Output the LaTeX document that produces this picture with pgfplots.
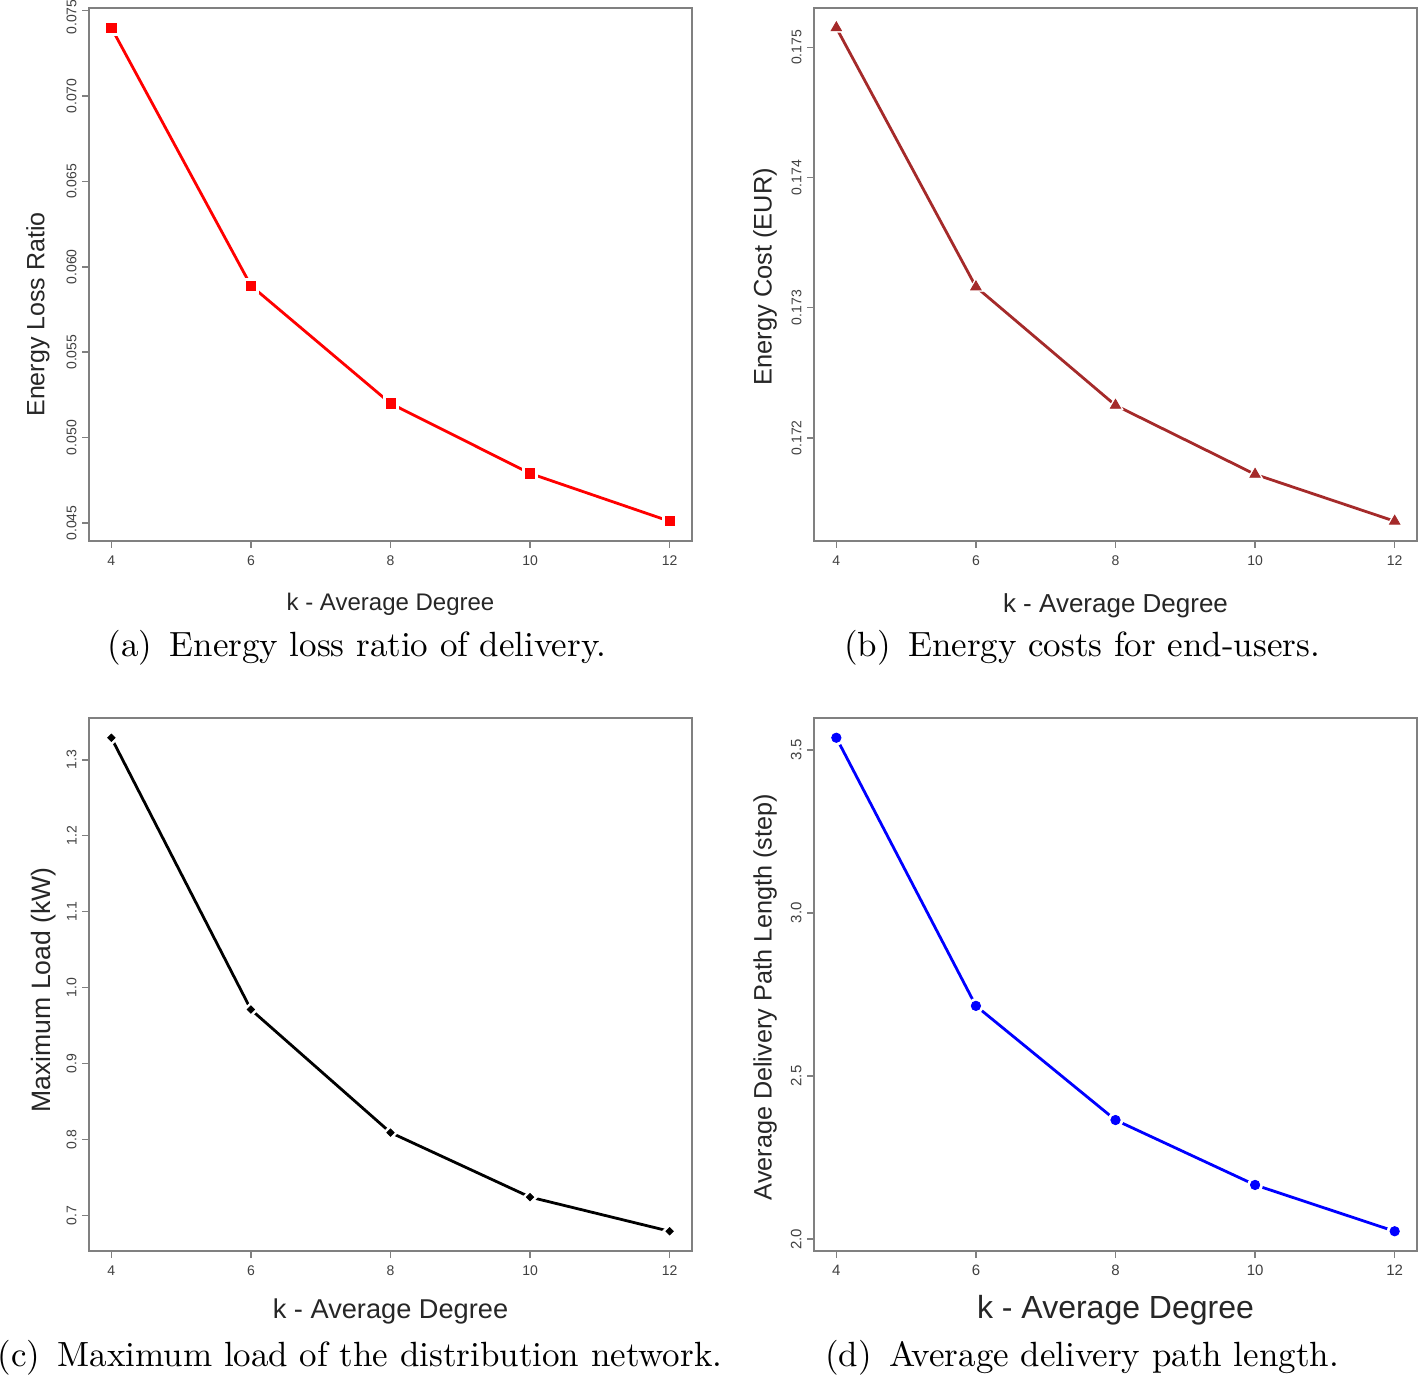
\documentclass[border=0pt]{standalone}
\usepackage{fontspec}
\newfontfamily\arialfont{Liberation Sans}
\usepackage{pgfplots}
\pgfplotsset{compat=1.18}
\usepackage{pgfplotstable}
\definecolor{rbrown}{HTML}{A52A2A}

\pgfplotstableread{
k v
4 0.0740
6 0.0589
8 0.0520
10 0.0479
12 0.0451
}\tableA
\pgfplotstableread{
k v
4 0.17515
6 0.17316
8 0.17225
10 0.17172
12 0.17136
}\tableB
\pgfplotstableread{
k v
4 1.329
6 0.971
8 0.809
10 0.724
12 0.679
}\tableC
\pgfplotstableread{
k v
4 3.537
6 2.715
8 2.365
10 2.166
12 2.024
}\tableD

\pgfplotsset{
 rstyle/.style={
  scale only axis, width=301.5pt, height=266.5pt,
  xmin=3.68, xmax=12.32,
  xtick={4,6,8,10,12}, xticklabels={4,6,8,10,12},
  scaled y ticks=false, scaled x ticks=false,
  tick align=outside, xtick pos=bottom, ytick pos=left,
  major tick length=3.5pt,
  axis line style={gray, line width=0.8pt},
  major tick style={gray, line width=0.8pt},
  tick label style={font=\arialfont\fontsize{7}{8}\selectfont, text=black!75},
  yticklabel style={rotate=90, anchor=south, inner sep=2.5pt},
  xticklabel style={anchor=north, inner sep=3.5pt},
  label style={text=black!85},
  /pgf/number format/assume math mode=true,
  anchor=south west,
 },
}
\tikzset{capstyle/.style={anchor=center, scale=1.75, transform shape, inner sep=0pt}}

\begin{document}
\begin{tikzpicture}
\useasboundingbox (0,0) rectangle (709pt,688.5pt);

% (a)
\begin{axis}[rstyle, at={(44.5pt,418pt)},
  ymin=0.043944, ymax=0.075156,
  ytick={0.045,0.050,0.055,0.060,0.065,0.070},
  yticklabels={0.045,0.050,0.055,0.060,0.065,0.070},
  extra y ticks={0.075}, extra y tick labels={0.075},
  extra y tick style={tick align=outside, major tick length=3.5pt,
     major tick style={gray, line width=0.8pt},
     yticklabel style={xshift=-3.2pt}},
  xlabel={k - Average Degree}, ylabel={Energy Loss Ratio},
  xlabel style={at={(axis description cs:0.5,-0.118)}, anchor=center, font=\arialfont\fontsize{12}{14}\selectfont},
  ylabel style={at={(axis description cs:-0.0846,0.425)}, anchor=center, font=\arialfont\fontsize{12.5}{14}\selectfont},
]
\addplot[red, line width=1.4pt, mark=none] table[x=k,y=v]{\tableA};
\addplot[only marks, mark=square*, mark size=3.8pt, white] table[x=k,y=v]{\tableA};
\addplot[only marks, mark=square*, mark size=2.3pt, red] table[x=k,y=v]{\tableA};
\end{axis}

% (b)
\begin{axis}[rstyle, at={(407pt,418pt)},
  ymin=0.171208, ymax=0.175302,
  ytick={0.172,0.173,0.174,0.175},
  yticklabels={0.172,0.173,0.174,0.175},
  xlabel={k - Average Degree}, ylabel={Energy Cost (EUR)},
  xlabel style={at={(axis description cs:0.5,-0.121)}, anchor=center, font=\arialfont\fontsize{13}{15}\selectfont},
  ylabel style={at={(axis description cs:-0.081,0.496)}, anchor=center, font=\arialfont\fontsize{12.7}{14}\selectfont},
]
\addplot[rbrown, line width=1.4pt, mark=none] table[x=k,y=v]{\tableB};
\addplot[only marks, mark=triangle*, mark size=4.4pt, white] table[x=k,y=v]{\tableB};
\addplot[only marks, mark=triangle*, mark size=3.0pt, rbrown] table[x=k,y=v]{\tableB};
\end{axis}

% (c)
\begin{axis}[rstyle, at={(44.5pt,63pt)},
  ymin=0.653, ymax=1.355,
  ytick={0.7,0.8,0.9,1.0,1.1,1.2,1.3},
  yticklabels={0.7,0.8,0.9,1.0,1.1,1.2,1.3},
  xlabel={k - Average Degree}, ylabel={Maximum Load (kW)},
  xlabel style={at={(axis description cs:0.5,-0.114)}, anchor=center, font=\arialfont\fontsize{13.6}{15}\selectfont},
  ylabel style={at={(axis description cs:-0.075,0.49)}, anchor=center, font=\arialfont\fontsize{13.3}{15}\selectfont},
]
\addplot[black, line width=1.4pt, mark=none] table[x=k,y=v]{\tableC};
\addplot[only marks, mark=square*, mark size=2.6pt, white, mark options={rotate=45}] table[x=k,y=v]{\tableC};
\addplot[only marks, mark=square*, mark size=1.3pt, black, mark options={rotate=45}] table[x=k,y=v]{\tableC};
\end{axis}

% (d)
\begin{axis}[rstyle, at={(407pt,63pt)},
  ymin=1.96348, ymax=3.59752,
  ytick={2.0,2.5,3.0,3.5},
  yticklabels={2.0,2.5,3.0,3.5},
  tick label style={font=\arialfont\fontsize{7.5}{8}\selectfont, text=black!75},
  xlabel={k - Average Degree}, ylabel={Average Delivery Path Length (step)},
  xlabel style={at={(axis description cs:0.5,-0.1107)}, anchor=center, font=\arialfont\fontsize{16}{18}\selectfont},
  ylabel style={at={(axis description cs:-0.081,0.476)}, anchor=center, font=\arialfont\fontsize{12.6}{14}\selectfont},
]
\addplot[blue, line width=1.4pt, mark=none] table[x=k,y=v]{\tableD};
\addplot[only marks, mark=*, mark size=3.7pt, white] table[x=k,y=v]{\tableD};
\addplot[only marks, mark=*, mark size=2.35pt, blue] table[x=k,y=v]{\tableD};
\end{axis}

% captions
\node[capstyle] at (178.5pt,364.5pt) {(a)\hspace{0.5em}Energy loss ratio of delivery.};
\node[capstyle] at (541pt,364.5pt) {(b)\hspace{0.5em}Energy costs for end-users.};
\node[capstyle] at (180pt,9.5pt) {(c)\hspace{0.5em}Maximum load of the distribution network.};
\node[capstyle] at (541pt,9.5pt) {(d)\hspace{0.5em}Average delivery path length.};
\end{tikzpicture}
\end{document}
